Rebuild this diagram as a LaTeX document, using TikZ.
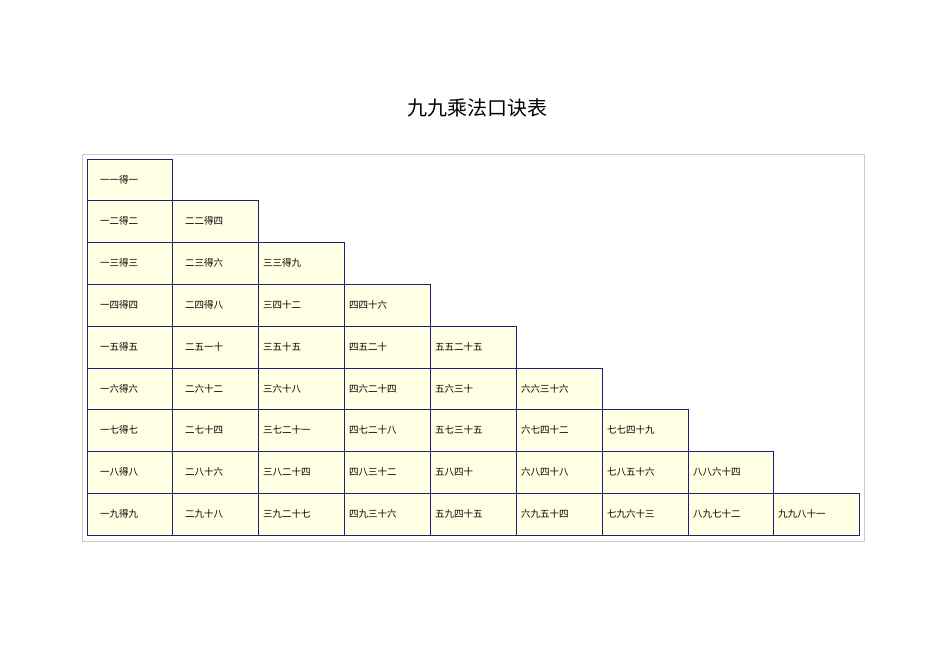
\documentclass[tikz,border=0pt]{standalone}
\usepackage{fontspec}
\newfontfamily\cjk{Noto Sans CJK SC}
\definecolor{cellfill}{RGB}{255,255,228}
\definecolor{cellline}{RGB}{30,30,120}
\begin{document}
\begin{tikzpicture}[x=1bp,y=-1bp,
  cellbox/.style={draw=cellline,line width=0.9bp,fill=cellfill},
  celltext/.style={font=\cjk\fontsize{9.5bp}{11bp}\selectfont,anchor=west,inner sep=0pt}]
\useasboundingbox (0,0) rectangle (950,672);
\node[font=\cjk\fontsize{20bp}{24bp}\selectfont] (title) at (477,108) {九九乘法口诀表};
\draw[draw=gray!40,line width=0.8bp] (82,154) rectangle (864,541);
\def\xs{{87,172,258,344,430,516,602,688,773,859}}
\def\ys{{159,200,242,284,326,368,409,451,493,535}}
\newcommand\mycell[3]{%
  \pgfmathsetmacro\xa{\xs[#1-1]}\pgfmathsetmacro\xb{\xs[#1]}%
  \pgfmathsetmacro\ya{\ys[#2-1]}\pgfmathsetmacro\yb{\ys[#2]}%
  \pgfmathsetmacro\off{#1<3 ? 13 : 5}%
  \draw[cellbox] (\xa,\ya) rectangle (\xb,\yb);
  \node[celltext] (c#1r#2) at ({\xa+\off},{(\ya+\yb)/2}) {#3};}
\mycell{1}{1}{一一得一}
\mycell{1}{2}{一二得二}\mycell{2}{2}{二二得四}
\mycell{1}{3}{一三得三}\mycell{2}{3}{二三得六}\mycell{3}{3}{三三得九}
\mycell{1}{4}{一四得四}\mycell{2}{4}{二四得八}\mycell{3}{4}{三四十二}\mycell{4}{4}{四四十六}
\mycell{1}{5}{一五得五}\mycell{2}{5}{二五一十}\mycell{3}{5}{三五十五}\mycell{4}{5}{四五二十}\mycell{5}{5}{五五二十五}
\mycell{1}{6}{一六得六}\mycell{2}{6}{二六十二}\mycell{3}{6}{三六十八}\mycell{4}{6}{四六二十四}\mycell{5}{6}{五六三十}\mycell{6}{6}{六六三十六}
\mycell{1}{7}{一七得七}\mycell{2}{7}{二七十四}\mycell{3}{7}{三七二十一}\mycell{4}{7}{四七二十八}\mycell{5}{7}{五七三十五}\mycell{6}{7}{六七四十二}\mycell{7}{7}{七七四十九}
\mycell{1}{8}{一八得八}\mycell{2}{8}{二八十六}\mycell{3}{8}{三八二十四}\mycell{4}{8}{四八三十二}\mycell{5}{8}{五八四十}\mycell{6}{8}{六八四十八}\mycell{7}{8}{七八五十六}\mycell{8}{8}{八八六十四}
\mycell{1}{9}{一九得九}\mycell{2}{9}{二九十八}\mycell{3}{9}{三九二十七}\mycell{4}{9}{四九三十六}\mycell{5}{9}{五九四十五}\mycell{6}{9}{六九五十四}\mycell{7}{9}{七九六十三}\mycell{8}{9}{八九七十二}\mycell{9}{9}{九九八十一}
\end{tikzpicture}
\end{document}
